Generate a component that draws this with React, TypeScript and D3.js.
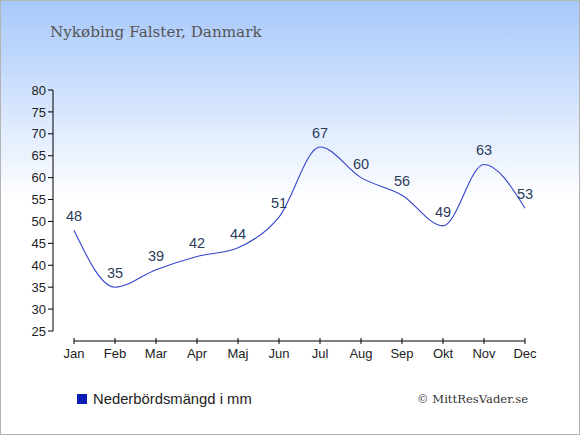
import { useEffect, useRef } from "react"
import * as d3 from "d3"

const MONTHS = ["Jan", "Feb", "Mar", "Apr", "Maj", "Jun", "Jul", "Aug", "Sep", "Okt", "Nov", "Dec"]
const RAIN = [48, 35, 39, 42, 44, 51, 67, 60, 56, 49, 63, 53]
const Y_TICKS = [25, 30, 35, 40, 45, 50, 55, 60, 65, 70, 75, 80]

const TITLE = "Nykøbing Falster, Danmark"
const LEGEND = "Nederbördsmängd i mm"
const CREDIT = "© MittResVader.se"

const W = 580
const H = 435
const SANS = "'Liberation Sans', Arial, sans-serif"
const SERIF = "'DejaVu Serif', Georgia, serif"

export default function App() {
  const ref = useRef<SVGSVGElement>(null)

  useEffect(() => {
    if (!ref.current) return
    const svg = d3.select(ref.current)
    svg.selectAll("*").remove()

    const defs = svg.append("defs")
    const grad = defs
      .append("linearGradient")
      .attr("id", "bg")
      .attr("x1", 0)
      .attr("y1", 0)
      .attr("x2", 0)
      .attr("y2", 1)
    grad.append("stop").attr("offset", "0").attr("stop-color", "#a7c8fb")
    grad.append("stop").attr("offset", "0.46").attr("stop-color", "#ffffff")
    grad.append("stop").attr("offset", "1").attr("stop-color", "#ffffff")

    svg
      .append("rect")
      .attr("x", 0.5)
      .attr("y", 0.5)
      .attr("width", W - 1)
      .attr("height", H - 1)
      .attr("fill", "url(#bg)")
      .attr("stroke", "#b4b4b4")

    svg
      .append("text")
      .attr("x", 50)
      .attr("y", 37)
      .attr("font-family", SERIF)
      .attr("font-size", 15.2)
      .attr("fill", "#555555")
      .text(TITLE)

    const x = d3.scalePoint<string>().domain(MONTHS).range([74, 525])
    const y = d3.scaleLinear().domain([25, 80]).range([331, 90])

    // y axis
    const ya = svg.append("g").attr("transform", "translate(53,0)")
    ya.append("line").attr("y1", y(80)).attr("y2", y(25)).attr("stroke", "#000")
    Y_TICKS.forEach((t) => {
      ya.append("line").attr("x1", -5).attr("x2", 0).attr("y1", y(t)).attr("y2", y(t)).attr("stroke", "#000")
      ya.append("text")
        .attr("x", -7)
        .attr("y", y(t))
        .attr("dy", "0.36em")
        .attr("text-anchor", "end")
        .attr("font-family", SANS)
        .attr("font-size", 13)
        .attr("fill", "#222")
        .text(t)
    })

    // x axis
    const xa = svg.append("g").attr("transform", "translate(0,341)")
    xa.append("line").attr("x1", x("Jan")!).attr("x2", x("Dec")!).attr("stroke", "#000")
    MONTHS.forEach((m) => {
      xa.append("line").attr("x1", x(m)!).attr("x2", x(m)!).attr("y1", -3).attr("y2", 3).attr("stroke", "#000")
      xa.append("text")
        .attr("x", x(m)!)
        .attr("y", 17)
        .attr("text-anchor", "middle")
        .attr("font-family", SANS)
        .attr("font-size", 13)
        .attr("fill", "#222")
        .text(m)
    })

    const line = d3
      .line<number>()
      .x((_, i) => x(MONTHS[i])!)
      .y((d) => y(d))
      .curve(d3.curveMonotoneX)

    svg
      .append("path")
      .datum(RAIN)
      .attr("d", line)
      .attr("fill", "none")
      .attr("stroke", "#3344cc")
      .attr("stroke-width", 1.1)

    svg
      .append("g")
      .selectAll("text")
      .data(RAIN)
      .join("text")
      .attr("x", (_, i) => x(MONTHS[i])!)
      .attr("y", (d) => y(d) - 9)
      .attr("text-anchor", "middle")
      .attr("font-family", SANS)
      .attr("font-size", 14.5)
      .attr("fill", "#2c3c5c")
      .text((d) => d)

    // legend
    svg.append("rect").attr("x", 77).attr("y", 394).attr("width", 10).attr("height", 10).attr("fill", "#0a1eb4")
    svg
      .append("text")
      .attr("x", 93)
      .attr("y", 404)
      .attr("font-family", SANS)
      .attr("font-size", 14.8)
      .attr("fill", "#222")
      .text(LEGEND)

    svg
      .append("text")
      .attr("x", 528)
      .attr("y", 403)
      .attr("text-anchor", "end")
      .attr("font-family", SERIF)
      .attr("font-size", 11.6)
      .attr("fill", "#333")
      .text(CREDIT)
  }, [])

  return (
    <div style={{ position: "absolute", left: 0, top: 0 }}>
      <svg ref={ref} width={W} height={H} style={{ display: "block" }} />
    </div>
  )
}
